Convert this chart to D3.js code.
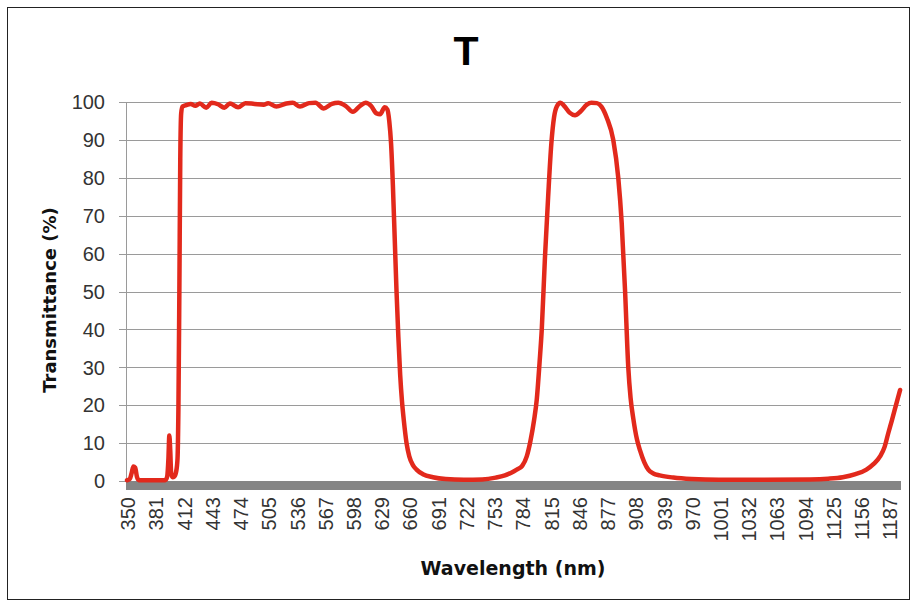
<!DOCTYPE html>
<html>
<head>
<meta charset="utf-8">
<script src="https://cdn.jsdelivr.net/npm/d3@7"></script>
<style>
  body { margin: 0; background: #fff; }
</style>
</head>
<body>
<div id="chart"></div>
<script>
// Transmittance curve
const wavelengths = [350, 353, 355, 357, 359, 361, 363, 380, 392, 394, 395.5, 396.5, 397.5, 398.5, 400, 402, 404, 405.5, 406.5, 407.5, 408.5, 409.5,
  411, 415, 420, 425, 430, 437, 443, 450, 457, 463, 472, 480, 490, 500, 505, 514, 525, 532, 540, 550, 557, 566, 575, 582, 590, 598, 606, 612, 618, 624, 628, 633, 636,
  638, 640, 642, 644, 646, 648, 650, 652, 654, 657, 660, 664, 668, 675, 686, 700, 720, 740, 755, 765, 772, 778, 784, 789, 793, 797, 800, 803, 805.5, 809, 812.5, 816, 819,
  822, 826, 830, 836, 842, 848, 855, 860, 866, 871, 877, 884, 889.5, 893.3, 897, 900.5, 903, 906, 910, 913.5, 918, 922.5, 928, 935, 950, 970, 1000, 1050, 1100, 1120,
  1136, 1150, 1162, 1170, 1177, 1182, 1186, 1190, 1195, 1199];
const transmittance = [0.2, 0.5, 2, 3.8, 3.5, 1, 0.2, 0.2, 0.2, 1, 6, 12, 8, 2, 1, 1.2, 2.5, 6, 20, 50, 85, 97,
  98.8, 99.2, 99.5, 99, 99.6, 98.5, 99.8, 99.4, 98.5, 99.6, 98.6, 99.7, 99.5, 99.3, 99.7, 98.8, 99.6, 99.8, 98.8, 99.7, 99.8, 98.3, 99.5, 99.8, 99, 97.4, 99, 99.8, 99, 97, 96.8, 98.6, 98,
  95, 89, 78, 64, 50, 38, 28, 21, 16, 10, 6.5, 4.2, 3, 1.8, 1, 0.5, 0.3, 0.4, 0.9, 1.5, 2.2, 3, 4, 6.5, 10.5, 16, 21.5, 31, 40, 59, 75, 89, 96,
  98.8, 99.8, 99, 97.2, 96.5, 97.5, 99.3, 99.8, 99.7, 98.8, 95.8, 90, 80, 68, 50, 30, 22, 16.5, 11, 8, 5, 3, 2, 1.5, 0.9, 0.5, 0.3, 0.3, 0.4, 0.6,
  1, 1.8, 3, 4.5, 6.5, 9, 12.6, 16, 20.5, 24];

const xTicks = d3.range(350, 1188, 31);
const yTicks = d3.range(0, 101, 10);

const titleText = 'T';
const xTitle = 'Wavelength (nm)';
const yTitle = 'Transmittance (%)';

const W = 916, H = 604;
const tickFont = '"Liberation Sans", Arial, sans-serif';
const titleFont = '"DejaVu Sans", sans-serif';

const data = wavelengths.map((w, i) => ({ w: w, t: transmittance[i] }));

const svg = d3.select('#chart').append('svg')
    .attr('width', W)
    .attr('height', H);

// frame
svg.append('rect')
    .attr('x', 7.5).attr('y', 7.5)
    .attr('width', 902).attr('height', 592)
    .attr('fill', 'none')
    .attr('stroke', '#222')
    .attr('stroke-width', 1);

const x = d3.scaleLinear()
    .domain([350, 1200])
    .range([127, 901]);

const y = d3.scaleLinear()
    .domain([0, 100])
    .range([481, 102]);

// gridlines with short ticks to the left
svg.append('g')
    .selectAll('line')
    .data(yTicks)
    .join('line')
    .attr('x1', 119)
    .attr('x2', 901)
    .attr('y1', d => Math.round(y(d)) + 0.5)
    .attr('y2', d => Math.round(y(d)) + 0.5)
    .attr('stroke', '#9a9a9a')
    .attr('stroke-width', 1);

// y axis line
svg.append('line')
    .attr('x1', 126.5).attr('x2', 126.5)
    .attr('y1', y(100)).attr('y2', y(0))
    .attr('stroke', '#9a9a9a');

// thick gray floor
svg.append('rect')
    .attr('x', 126)
    .attr('y', y(0))
    .attr('width', 901 - 126)
    .attr('height', 9)
    .attr('fill', '#858585');

// y labels
svg.append('g')
    .selectAll('text')
    .data(yTicks)
    .join('text')
    .attr('x', 105)
    .attr('y', d => y(d))
    .attr('dy', '0.36em')
    .attr('text-anchor', 'end')
    .style('font-family', tickFont)
    .attr('font-size', 20)
    .attr('fill', '#333')
    .text(d => d);

// x labels, rotated
svg.append('g')
    .selectAll('text')
    .data(xTicks)
    .join('text')
    .attr('transform', d => `translate(${x(d) + 1},497) rotate(-90)`)
    .attr('dy', '0.36em')
    .attr('text-anchor', 'end')
    .style('font-family', tickFont)
    .attr('font-size', 20)
    .attr('fill', '#333')
    .text(d => d);

// curve
const line = d3.line()
    .x(d => x(d.w))
    .y(d => y(d.t))
    .curve(d3.curveMonotoneX);

svg.append('path')
    .datum(data)
    .attr('d', line)
    .attr('fill', 'none')
    .attr('stroke', '#e2291c')
    .attr('stroke-width', 4.5)
    .attr('stroke-linejoin', 'round')
    .attr('stroke-linecap', 'round');

// titles
svg.append('text')
    .attr('x', 466)
    .attr('y', 65)
    .attr('text-anchor', 'middle')
    .style('font-family', '"Liberation Sans Narrow", "Liberation Sans", sans-serif')
    .attr('font-weight', 'bold')
    .attr('font-size', 41)
    .attr('fill', '#000')
    .text(titleText);

svg.append('text')
    .attr('x', 513)
    .attr('y', 575)
    .attr('text-anchor', 'middle')
    .style('font-family', titleFont)
    .attr('font-weight', 'bold')
    .attr('font-size', 19)
    .attr('fill', '#111')
    .text(xTitle);

svg.append('text')
    .attr('transform', `translate(56,300) rotate(-90)`)
    .attr('text-anchor', 'middle')
    .style('font-family', titleFont)
    .attr('font-weight', 'bold')
    .attr('font-size', 18)
    .attr('fill', '#111')
    .text(yTitle);
</script>
</body>
</html>
